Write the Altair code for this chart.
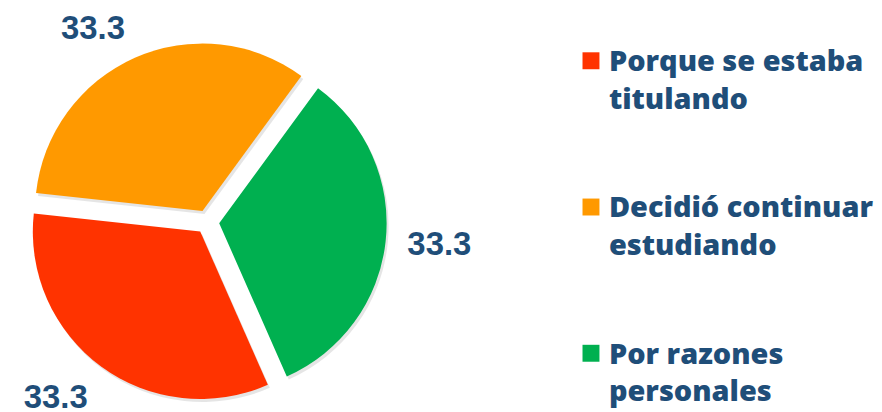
import altair as alt
import pandas as pd

# ---- data ----
categories = ["Porque se estaba titulando", "Decidió continuar estudiando", "Por razones personales"]
line1 = ["Porque se estaba", "Decidió continuar", "Por razones"]
line2 = ["titulando", "estudiando", "personales"]
values = [33.3, 33.3, 33.3]
colors = ["#FF3300", "#FF9900", "#00B050"]

df = pd.DataFrame({"cat": categories, "l1": line1, "l2": line2,
                   "value": values, "order": list(range(len(categories)))})

# ---- layout constants ----
CX, CY = 200, 214      # pie centre (px within the pie panel)
R = 168                # outer radius
EXPLODE = 12           # slice explosion
START = 2.726          # start angle (radians, clockwise from top)
LR, HW, HH = 200, 34, 13
TEXT = "#1F4E79"

color = alt.Color("cat:N", scale=alt.Scale(domain=categories, range=colors), legend=None)

base = (
    alt.Chart(df)
    .transform_window(cum="sum(value)", sort=[alt.SortField("order")], frame=[None, 0])
    .transform_joinaggregate(total="sum(value)")
    .transform_calculate(a0=f"{START} + 2*PI*(datum.cum - datum.value)/datum.total")
    .transform_calculate(a1=f"{START} + 2*PI*datum.cum/datum.total")
    .transform_calculate(mid="(datum.a0 + datum.a1)/2")
    .transform_calculate(ox=f"{CX} + {EXPLODE}*sin(datum.mid)")
    .transform_calculate(oy=f"{CY} - {EXPLODE}*cos(datum.mid)")
    .transform_calculate(sx="datum.ox + 2")
    .transform_calculate(sy="datum.oy + 3")
    .transform_calculate(
        lx=f"{CX} + {LR}*sin(datum.mid) + (sin(datum.mid) < 0 ? -{HW} : {HW})"
    )
    .transform_calculate(
        ly=f"{CY} - {LR}*cos(datum.mid) + (cos(datum.mid) > 0.3 ? -{HH} : (cos(datum.mid) < -0.3 ? {HH} : 0))"
    )
    .transform_calculate(label="format(datum.value, '.1f')")
)

theta = alt.Theta("a0:Q", scale=None, stack=None)
theta2 = alt.Theta2("a1:Q")

shadow = base.mark_arc(radius=R, color="#000000", opacity=0.10).encode(
    theta=theta, theta2=theta2,
    x=alt.X("sx:Q", scale=None, axis=None),
    y=alt.Y("sy:Q", scale=None, axis=None),
)

arcs = base.mark_arc(radius=R).encode(
    theta=theta, theta2=theta2,
    x=alt.X("ox:Q", scale=None, axis=None),
    y=alt.Y("oy:Q", scale=None, axis=None),
    color=color,
)

labels = base.mark_text(
    font="Liberation Sans", fontSize=33, fontWeight="bold", color=TEXT,
    align="center", baseline="middle", dy=2,
).encode(
    x=alt.X("lx:Q", scale=None, axis=None),
    y=alt.Y("ly:Q", scale=None, axis=None),
    text="label:N",
)

pie = alt.layer(shadow, arcs, labels).properties(width=570, height=404)

# ---- custom legend ----
leg = alt.Chart(df).transform_calculate(lines="[datum.l1, datum.l2]")
ysc = alt.Y("cat:N", sort=categories,
            scale=alt.Scale(type="point", padding=0.356), axis=None)

squares = leg.mark_square(size=289, opacity=1).encode(
    x=alt.value(15), y=ysc, color=color
)
texts = leg.mark_text(
    align="left", baseline="alphabetic", dy=10.4, lineHeight=37.6,
    font="Open Sans", fontSize=29, fontWeight=800, color=TEXT,
).encode(x=alt.value(33), y=ysc, text="lines:N")

legend = alt.layer(squares, texts).properties(width=290, height=398)

chart = (
    alt.hconcat(pie, legend, spacing=0)
    .properties(padding=0, background="white")
    .configure_view(stroke=None)
)

chart.save("out.html", embed_options={"renderer": "svg", "actions": False})
